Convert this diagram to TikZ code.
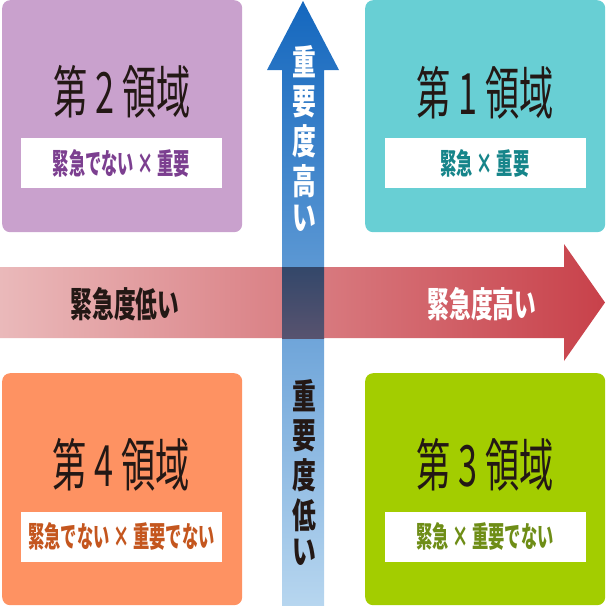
\documentclass[tikz,border=0pt]{standalone}
\usepackage{fontspec}
\newfontfamily\jp{Noto Sans CJK JP}
\definecolor{purp}{HTML}{C9A1CD}
\definecolor{teal1}{HTML}{68CFD4}
\definecolor{orng}{HTML}{FE9262}
\definecolor{grn}{HTML}{A3CD00}
\definecolor{purpT}{HTML}{7C3F90}
\definecolor{tealT}{HTML}{16858A}
\definecolor{orngT}{HTML}{C4561E}
\definecolor{grnT}{HTML}{6E8D16}
\definecolor{titlec}{HTML}{231815}
\definecolor{blueTop}{HTML}{1467BE}
\definecolor{blueBot}{HTML}{B7D6EF}
\definecolor{pinkL}{HTML}{EAB9BA}
\definecolor{redR}{HTML}{C8414A}
\definecolor{crossTop}{HTML}{33476A}
\definecolor{crossBot}{HTML}{58536F}
\begin{document}
\begin{tikzpicture}[x=1pt,y=-1pt,
  quad/.style={rectangle, rounded corners=8pt, draw=none, inner sep=0, minimum width=240, minimum height=232, anchor=north west},
  whitebox/.style={rectangle, fill=white, draw=none, inner sep=0, minimum width=201, minimum height=50},
  title/.style={text=titlec, inner sep=0, font=\jp\fontsize{57}{57}\selectfont},
  lab/.style={inner sep=0, font=\jp\bfseries\fontsize{29}{29}\selectfont},
  axislab/.style={inner sep=0, font=\jp\bfseries\fontsize{35}{35}\selectfont},
  vlab/.style={inner sep=0, font=\jp\bfseries\fontsize{35}{34}\selectfont}]
\useasboundingbox (0,0) rectangle (606,606);
% quadrants
\node[quad, fill=purp] (q2) at (2,0) {};
\node[quad, fill=teal1] (q1) at (365,0) {};
\node[quad, fill=orng] (q4) at (2,373) {};
\node[quad, fill=grn] (q3) at (365,373) {};
% white label boxes
\node[whitebox] (w2) at (121.5,163) {};
\node[whitebox] (w1) at (485,163) {};
\node[whitebox] (w4) at (121.5,536.5) {};
\node[whitebox] (w3) at (485,536.5) {};
% titles
\node[title] (t2) at (122,92) {\scalebox{0.6}[1]{第 2 領域}};
\node[title] (t1) at (485,93) {\scalebox{0.6}[1]{第 1 領域}};
\node[title] (t4) at (121,465) {\scalebox{0.6}[1]{第 4 領域}};
\node[title] (t3) at (485,465) {\scalebox{0.6}[1]{第 3 領域}};
% labels
\node[lab, text=purpT] (l2) at (w2) {\scalebox{0.56}[1]{緊急でない × 重要}};
\node[lab, text=tealT] (l1) at (w1) {\scalebox{0.56}[1]{緊急 × 重要}};
\node[lab, text=orngT] (l4) at (w4) {\scalebox{0.56}[1]{緊急でない × 重要でない}};
\node[lab, text=grnT] (l3) at (w3) {\scalebox{0.56}[1]{緊急 × 重要でない}};
% vertical arrow
\shade[top color=blueTop, bottom color=blueBot]
  (282,606) -- (282,70) -- (267,70) -- (303,1) -- (339,70) -- (324,70) -- (324,606) -- cycle;
% horizontal arrow
\shade[left color=pinkL, right color=redR]
  (0,267) -- (564,267) -- (564,244) -- (605,302.5) -- (564,361) -- (564,338) -- (0,338) -- cycle;
% crossing
\shade[top color=crossTop, bottom color=crossBot] (282,267) rectangle (324,338);
% axis labels
\node[axislab, text=titlec] (ulow) at (125,304) {\scalebox{0.62}[1]{緊急度低い}};
\node[axislab, text=white] (uhigh) at (482,304) {\scalebox{0.62}[1]{緊急度高い}};
\node[vlab, text=white] (ihigh) at (304,143) {\scalebox{0.68}[1]{\begin{tabular}{@{}c@{}}重\\要\\度\\高\\い\end{tabular}}};
\node[vlab, text=titlec] (ilow) at (304,477) {\scalebox{0.68}[1]{\begin{tabular}{@{}c@{}}重\\要\\度\\低\\い\end{tabular}}};
\end{tikzpicture}
\end{document}
